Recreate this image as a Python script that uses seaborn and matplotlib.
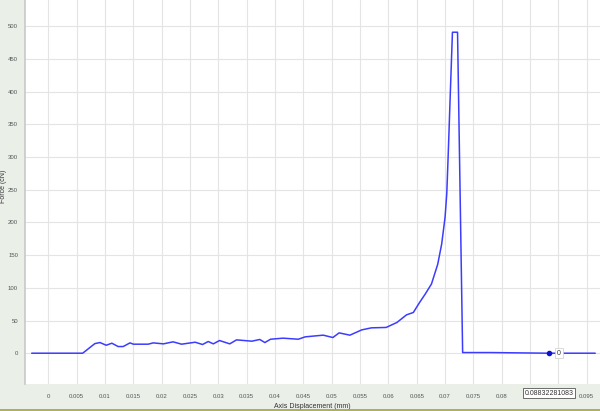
import matplotlib
matplotlib.use("Agg")
import matplotlib.pyplot as plt
import seaborn as sns
import pandas as pd

# Data
displacement = [-0.00295, 0.00605, 0.0082, 0.0091, 0.0102, 0.0112, 0.0123, 0.0132,
                0.0144, 0.0150, 0.0176, 0.0185, 0.0203, 0.0220, 0.0235, 0.0259,
                0.0272, 0.0282, 0.0291, 0.0302, 0.0320, 0.0332, 0.0359, 0.0373,
                0.0382, 0.0392, 0.0414, 0.0441, 0.0453, 0.0485, 0.0502, 0.0513,
                0.0532, 0.0553, 0.0570, 0.0596, 0.0615, 0.0632, 0.0644, 0.0655,
                0.0665, 0.0676, 0.0687, 0.0694, 0.0700, 0.0703, 0.0706, 0.0709,
                0.0713, 0.0722, 0.0731, 0.0780, 0.0883, 0.0965]
force = [0, 0, 14.7, 16.3, 12.2, 15.3, 10.2, 10.2,
         15.8, 13.8, 13.8, 15.8, 14.3, 17.4, 13.8, 16.8,
         13.3, 17.9, 14.3, 19.4, 14.3, 20.4, 18.4, 21,
         16.3, 21.4, 23, 21.4, 25, 27.6, 24, 31.1,
         27.6, 35.7, 38.8, 39.4, 47, 58.7, 62.3, 77.6,
         90.5, 105.9, 136, 167, 208, 244, 315, 392,
         491, 491, 1, 1, 0, 0]
x_ticks = [0, 0.005, 0.01, 0.015, 0.02, 0.025, 0.03, 0.035, 0.04, 0.045,
           0.05, 0.055, 0.06, 0.065, 0.07, 0.075, 0.08, 0.095]
x_tick_labels = ["0", "0.005", "0.01", "0.015", "0.02", "0.025", "0.03", "0.035",
                 "0.04", "0.045", "0.05", "0.055", "0.06", "0.065", "0.07",
                 "0.075", "0.08", "0.095"]
y_ticks = [0, 50, 100, 150, 200, 250, 300, 350, 400, 450, 500]
cursor_x = 0.08832281083
cursor_y = 0
cursor_label = "0.08832281083"
cursor_value = "0"

df = pd.DataFrame({"disp": displacement, "force": force})

sns.set_theme(style="white")
plt.rcParams["font.family"] = ["Liberation Sans", "DejaVu Sans"]

bg = "#eaefe8"
fig = plt.figure(figsize=(6.0, 4.11), dpi=100, facecolor=bg)
ax = fig.add_axes([25 / 600, 27 / 411, 575 / 600, 384 / 411])
ax.set_facecolor("white")

line_color = "#3c3cff"
sns.lineplot(data=df, x="disp", y="force", sort=False, estimator=None,
             color=line_color, linewidth=1.1, ax=ax)
ax.plot([cursor_x], [cursor_y], "o", color="#1010d0", markersize=3, zorder=5)

ax.set_xlim(-0.00413, 0.09734)
ax.set_ylim(-47.1, 540.3)

ax.set_xticks([0.005 * i for i in range(20)], minor=True)
ax.set_xticks(x_ticks)
ax.set_xticklabels(x_tick_labels)
ax.set_yticks(y_ticks)
ax.set_yticklabels([str(v) for v in y_ticks])

ax.grid(True, which="both", axis="x", color="#e4e4e4", linewidth=0.8)
ax.grid(True, which="major", axis="y", color="#e4e4e4", linewidth=0.8)
ax.tick_params(axis="x", which="minor", length=0)
ax.tick_params(axis="both", which="major", labelsize=4.3, colors="#555555",
               length=2, width=0.5, pad=3)
ax.tick_params(axis="x", which="major", pad=5)
ax.set_axisbelow(True)

for side in ["top", "right", "bottom"]:
    ax.spines[side].set_visible(False)
ax.spines["left"].set_color("#c8c8c8")
ax.spines["left"].set_linewidth(1.2)

ax.set_xlabel("Axis Displacement (mm)", fontsize=5, color="#333333", labelpad=3)
ax.set_ylabel("Force (cN)", fontsize=5, color="#333333")
ax.yaxis.set_label_coords(-0.031, 0.515)

# cursor labels
ax.text(cursor_x, -0.0235, cursor_label, transform=ax.get_xaxis_transform(),
        ha="center", va="center", fontsize=5, color="#333333",
        bbox=dict(boxstyle="square,pad=0.25", fc="white", ec="#555555", lw=0.6),
        zorder=10)
ax.annotate(cursor_value, xy=(cursor_x, cursor_y), xytext=(6, 0),
            textcoords="offset points", ha="left", va="center", fontsize=5,
            color="#333333",
            bbox=dict(boxstyle="square,pad=0.25", fc="white", ec="#cccccc", lw=0.5),
            zorder=10)

# olive bottom line
fig.add_artist(plt.Line2D([0, 1], [1.5 / 411, 1.5 / 411], transform=fig.transFigure,
                          color="#a4a43a", linewidth=1.2))

fig.savefig("out.png", dpi=100, facecolor=bg)
